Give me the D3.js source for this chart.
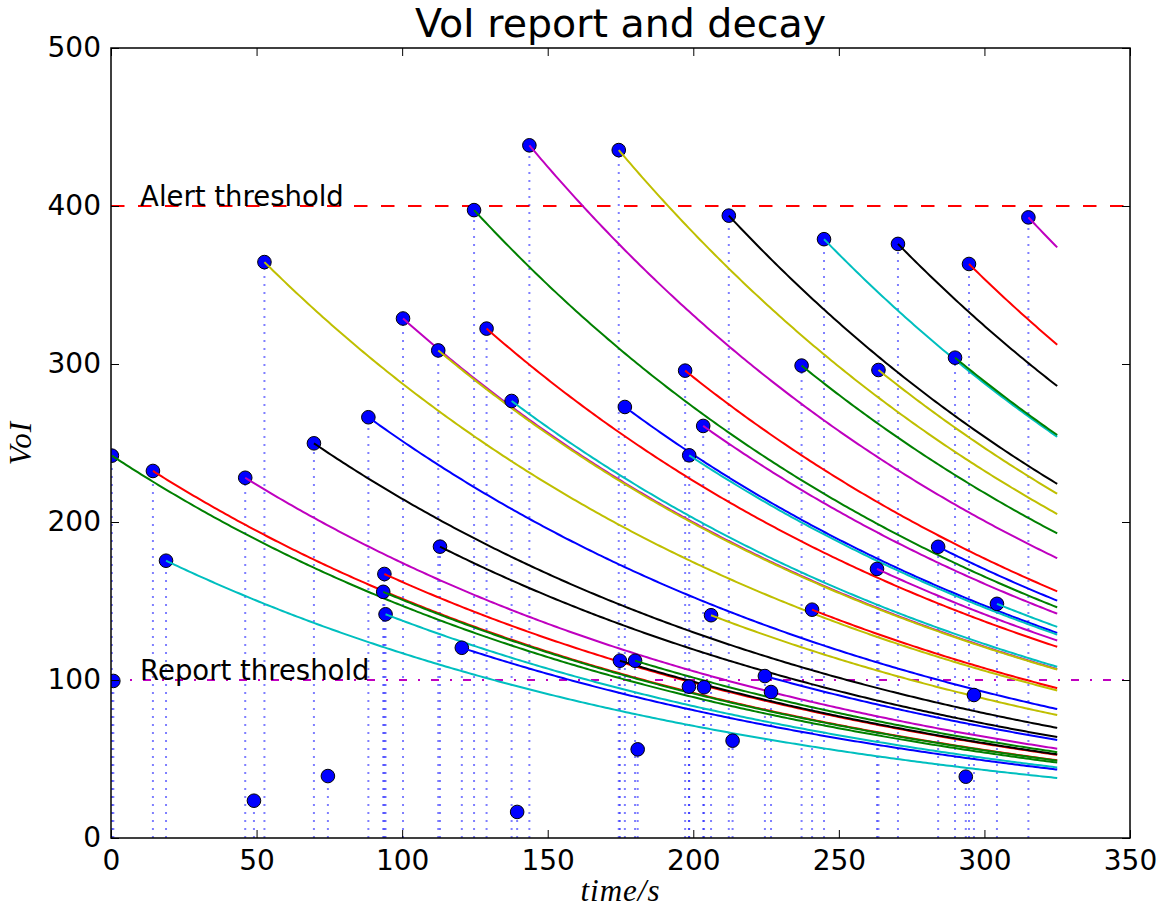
<!DOCTYPE html>
<html><head><meta charset="utf-8">
<script src="https://cdn.jsdelivr.net/npm/d3@7"></script>
<style>body{margin:0;background:#fff}</style>
</head><body><svg id="c" width="1164" height="913"></svg>
<script>
// report times (s) and VoI values, in time order
const times = [0.3, 0.8, 14.4, 18.9, 46.1, 49.1, 52.7, 69.7, 74.5, 88.4,
  93.5, 93.9, 94.3, 100.3, 112.4, 113.0, 120.5, 124.7, 129.0, 137.6,
  139.5, 143.7, 174.4, 174.8, 176.5, 180.0, 180.9, 197.2, 198.5, 198.6,
  203.4, 203.7, 206.1, 212.2, 213.5, 224.6, 226.7, 237.2, 240.8, 244.9,
  263.1, 263.6, 270.3, 284.1, 289.9, 293.6, 294.7, 296.4, 304.3, 315.1];
const values = [242.0, 99.4, 232.3, 175.5, 228.0, 23.6, 364.5, 249.8, 39.2, 266.3,
  155.8, 167.1, 141.6, 328.8, 308.6, 184.4, 120.4, 397.4, 322.4, 276.6,
  16.5, 438.4, 435.4, 112.2, 272.8, 112.2, 56.1, 295.8, 95.8, 242.2,
  260.8, 95.4, 141.0, 393.9, 61.6, 102.5, 92.4, 299.0, 144.5, 379.0,
  170.3, 296.2, 376.0, 184.3, 304.0, 38.8, 363.3, 90.5, 148.2, 392.8];
const xTicks = [0, 50, 100, 150, 200, 250, 300, 350];
const yTicks = [0, 100, 200, 300, 400, 500];
const reportThreshold = 100;
const alertThreshold = 400;
const decayRate = 0.005;   // per second
const endTime = 325;
const colorCycle = ['#008000', '#ff0000', '#00bfbf', '#bf00bf', '#bfbf00', '#000000', '#0000ff'];

const svg = d3.select('#c');
const W = 1164, H = 913;
const L = 111, R = 1130, T = 48, B = 838;
const x = d3.scaleLinear().domain([0, 350]).range([L, R]);
const y = d3.scaleLinear().domain([0, 500]).range([B, T]);

svg.append('rect').attr('width', W).attr('height', H).attr('fill', '#fff');
svg.append('defs').append('clipPath').attr('id', 'clip')
  .append('rect').attr('x', L).attr('y', T).attr('width', R - L).attr('height', B - T);

const plot = svg.append('g').attr('clip-path', 'url(#clip)');

// threshold lines
plot.append('line').attr('x1', x(0)).attr('x2', x(350))
  .attr('y1', y(alertThreshold)).attr('y2', y(alertThreshold))
  .attr('stroke', '#ff0000').attr('stroke-width', 2).attr('stroke-dasharray', '13.5,13.5');
plot.append('line').attr('x1', x(0)).attr('x2', x(350))
  .attr('y1', y(reportThreshold)).attr('y2', y(reportThreshold))
  .attr('stroke', '#bf00bf').attr('stroke-width', 2).attr('stroke-dasharray', '8,11,2,11');

// vertical dotted lines
times.forEach((t, i) => {
  plot.append('line').attr('x1', x(t)).attr('x2', x(t))
    .attr('y1', y(0)).attr('y2', y(values[i]))
    .attr('stroke', '#0000ff').attr('stroke-opacity', 0.5)
    .attr('stroke-width', 2).attr('stroke-dasharray', '2,6');
});

const line = d3.line().x(d => x(d[0])).y(d => y(d[1]));
let k = 0;
times.forEach((t, i) => {
  const v = values[i];
  plot.append('circle').attr('cx', x(t)).attr('cy', y(v)).attr('r', 6.8)
    .attr('fill', '#0000ff').attr('stroke', '#000').attr('stroke-width', 1);
  if (v >= reportThreshold) {
    const ts = d3.range(t, endTime, 1).concat([endTime]);
    const pts = ts.map(s => [s, v * Math.exp(-decayRate * (s - t))]);
    plot.append('path').attr('d', line(pts)).attr('fill', 'none')
      .attr('stroke', colorCycle[k % colorCycle.length]).attr('stroke-width', 2);
    k++;
  }
});

// labels on thresholds
const font = 'DejaVu Sans, sans-serif';
svg.append('text').attr('x', x(10)).attr('y', y(alertThreshold))
  .attr('font-family', font).attr('font-size', 27.5).text('Alert threshold');
svg.append('text').attr('x', x(10)).attr('y', y(reportThreshold))
  .attr('font-family', font).attr('font-size', 27.5).text('Report threshold');

// axes
function styleAxis(g) {
  g.select('.domain').remove();
  g.selectAll('.tick line').attr('stroke', '#000').attr('stroke-width', 1);
  g.selectAll('.tick text').attr('font-family', font).attr('font-size', 28).attr('fill', '#000');
}
svg.append('g').attr('transform', `translate(0,${B})`)
  .call(d3.axisBottom(x).tickValues(xTicks).tickFormat(d3.format('d')).tickSizeInner(-8).tickSizeOuter(0).tickPadding(12))
  .call(styleAxis);
svg.append('g').attr('transform', `translate(0,${T})`)
  .call(d3.axisTop(x).tickValues(xTicks).tickFormat('').tickSizeInner(-8).tickSizeOuter(0))
  .call(styleAxis);
svg.append('g').attr('transform', `translate(${L},0)`)
  .call(d3.axisLeft(y).tickValues(yTicks).tickFormat(d3.format('d')).tickSizeInner(-8).tickSizeOuter(0).tickPadding(10))
  .call(styleAxis);
svg.append('g').attr('transform', `translate(${R},0)`)
  .call(d3.axisRight(y).tickValues(yTicks).tickFormat('').tickSizeInner(-8).tickSizeOuter(0))
  .call(styleAxis);

svg.append('rect').attr('x', L).attr('y', T).attr('width', R - L).attr('height', B - T)
  .attr('fill', 'none').attr('stroke', '#000').attr('stroke-width', 1.5);

// title and axis labels
svg.append('text').attr('x', (L + R) / 2).attr('y', 37).attr('text-anchor', 'middle')
  .attr('font-family', font).attr('font-size', 39.5).text('VoI report and decay');
svg.append('text').attr('x', (L + R) / 2).attr('y', 901).attr('text-anchor', 'middle')
  .attr('font-family', 'Liberation Serif, serif').attr('font-style', 'italic')
  .attr('font-size', 31).attr('letter-spacing', 1).text('time/s');
svg.append('text').attr('transform', `translate(31,${(T + B) / 2}) rotate(-90)`)
  .attr('text-anchor', 'middle')
  .attr('font-family', 'Liberation Serif, serif').attr('font-style', 'italic')
  .attr('font-size', 31).attr('letter-spacing', 1).text('VoI');
</script>
</body></html>
